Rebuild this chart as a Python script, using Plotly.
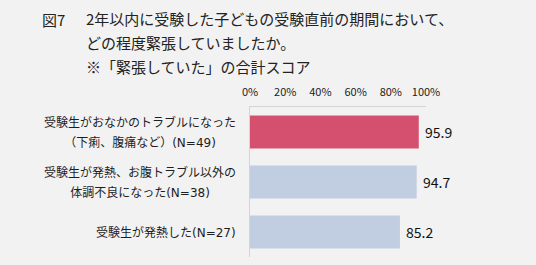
import plotly.graph_objects as go

categories = [
    ["受験生がおなかのトラブルになった", "（下痢、腹痛など）(N=49)"],
    ["受験生が発熱、お腹トラブル以外の", "体調不良になった(N=38)"],
    ["受験生が発熱した(N=27)"],
]
values = [95.9, 94.7, 85.2]
bar_colors = ["#d5506f", "#c1cde0", "#c1cde0"]
tick_vals = [0, 20, 40, 60, 80, 100]
tick_text = ["0%", "20%", "40%", "60%", "80%", "100%"]
title_num = "図7"
title_lines = [
    "2年以内に受験した子どもの受験直前の期間において、",
    "どの程度緊張していましたか。",
    "※「緊張していた」の合計スコア",
]

FONT = "Noto Sans CJK JP, Noto Sans, sans-serif"
LABEL_FONT = "DejaVu Sans, Noto Sans CJK JP, sans-serif"
W, H = 536, 265
L, R, T, B = 249.5, 109.5, 107, 8
plot_w = W - L - R

ypos = list(range(len(values)))

fig = go.Figure()
fig.add_trace(go.Bar(
    x=values, y=ypos, orientation="h",
    marker=dict(color=bar_colors, line=dict(width=0)),
    width=0.66, hoverinfo="skip",
))

annotations = []
# category labels: block right-aligned, lines centered
for i, lines in enumerate(categories):
    txt = "<br>".join(f"<span style='font-size:12px'>{ln}</span>" for ln in lines)
    annotations.append(dict(
        xref="paper", yref="y", x=(237 - L) / plot_w, y=i,
        xanchor="right", yanchor="middle", align="center",
        text=txt, showarrow=False,
        font=dict(family=LABEL_FONT, size=15.4, color="#1e1e1e"),
    ))
# value labels
for i, v in enumerate(values):
    annotations.append(dict(
        xref="x", yref="y", x=v, y=i, xanchor="left", yanchor="middle",
        xshift=4, text=f"{v:.1f}", showarrow=False,
        font=dict(family=FONT, size=14, color="#111111"),
    ))
# title
annotations.append(dict(
    xref="paper", yref="paper", x=(38 - L) / plot_w, y=1 + (T - 19) / (H - T - B),
    xanchor="left", yanchor="middle", text=title_num, showarrow=False,
    font=dict(family=FONT, size=15, color="#222222"),
))
title_txt = "<br>".join(f"<span style='font-size:15px'>{ln}</span>" for ln in title_lines)
annotations.append(dict(
    xref="paper", yref="paper", x=(83 - L) / plot_w, y=1 + (T - 43) / (H - T - B),
    xanchor="left", yanchor="middle", align="left", text=title_txt, showarrow=False,
    font=dict(family=FONT, size=18.5, color="#222222"),
))

fig.update_layout(
    width=W, height=H,
    margin=dict(l=L, r=R, t=T, b=B, pad=0),
    paper_bgcolor="#f2f2f2", plot_bgcolor="#f2f2f2",
    showlegend=False,
    annotations=annotations,
    xaxis=dict(
        side="top", range=[0, 100], tickvals=tick_vals, ticktext=tick_text,
        showgrid=False, zeroline=False, showline=True, linecolor="#d4d4d4", linewidth=1,
        ticks="", tickfont=dict(family=FONT, size=11, color="#222222"),
        ticklabelstandoff=6,
    ),
    yaxis=dict(
        range=[2.5, -0.5], showticklabels=False, showgrid=False, zeroline=False,
        showline=True, linecolor="#d4d4d4", linewidth=1, ticks="",
    ),
)

fig.write_html("out.html")
